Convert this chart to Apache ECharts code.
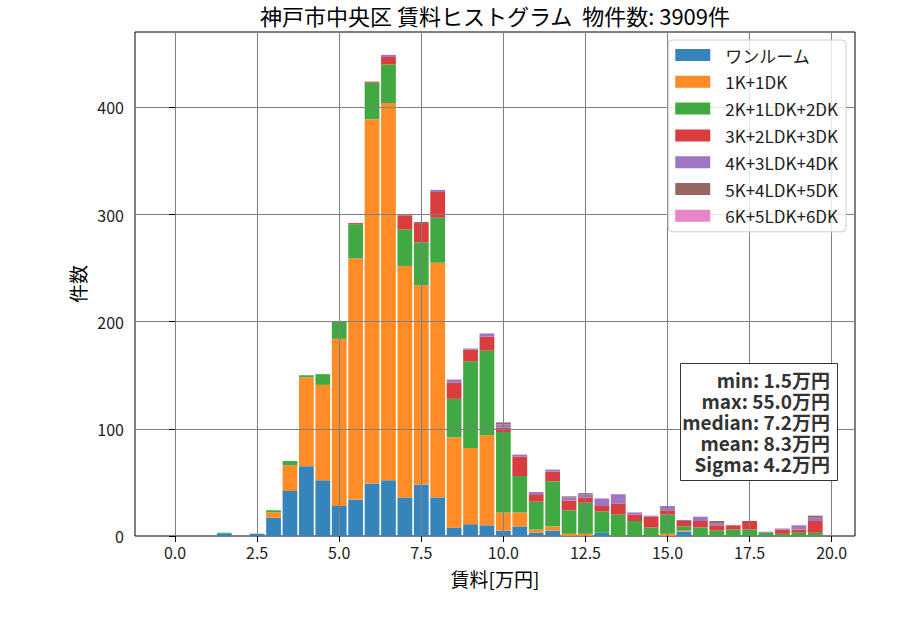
<!DOCTYPE html>
<html>
<head>
<meta charset="utf-8">
<script src="https://cdn.jsdelivr.net/npm/echarts@6/dist/echarts.min.js"></script>
<style>
	html, body { margin: 0; padding: 0; background: #fff; }
	#chart { width: 900px; height: 630px; }
</style>
</head>
<body>
<div id="chart"></div>
<script>
// 階級の中心 [万円] (幅0.5)
const binCenters = [1.5, 2.0, 2.5, 3.0, 3.5, 4.0, 4.5, 5.0, 5.5, 6.0, 6.5, 7.0, 7.5, 8.0, 8.5, 9.0, 9.5, 10.0,
	10.5, 11.0, 11.5, 12.0, 12.5, 13.0, 13.5, 14.0, 14.5, 15.0, 15.5, 16.0, 16.5, 17.0, 17.5, 18.0, 18.5, 19.0, 19.5];

// 間取りごとの件数
const oneRoom = [2, 0, 2, 17, 42, 65, 52, 28, 34, 49, 52, 36, 48, 36, 8, 11, 10, 5,
	9, 3, 5, 0, 0, 3, 0, 0, 0, 0, 4, 0, 0, 0, 0, 0, 0, 0, 0];
const oneK = [0, 0, 0, 5, 24, 83, 89, 156, 225, 340, 352, 216, 186, 219, 84, 71, 84, 17,
	13, 3, 4, 2, 2, 0, 0, 0, 0, 2, 1, 0, 0, 0, 0, 0, 0, 0, 0];
const twoK = [1, 0, 0, 2, 4, 2, 10, 16, 32, 34, 36, 34, 40, 42, 36, 81, 79, 75,
	34, 26, 42, 22, 29, 20, 20, 14, 8, 18, 4, 8, 5, 6, 6, 3, 2, 3, 3];
const threeK = [0, 0, 0, 0, 0, 0, 0, 0, 1, 1, 7, 13, 18, 24, 15, 11, 13, 4,
	18, 7, 9, 9, 5, 5, 10, 6, 10, 4, 5, 6, 5, 4, 8, 0, 4, 3, 11];
const fourK = [0, 0, 0, 0, 0, 0, 0, 0, 0, 0, 2, 0, 0, 2, 3, 1, 3, 3,
	2, 2, 2, 3, 3, 7, 9, 2, 1, 4, 1, 4, 2, 0, 0, 1, 1, 4, 3];
const fiveK = [0, 0, 0, 0, 0, 0, 0, 0, 0, 0, 0, 1, 1, 0, 0, 0, 0, 2,
	0, 0, 0, 1, 1, 0, 0, 0, 0, 0, 0, 0, 2, 0, 0, 0, 0, 0, 2];
const sixK = [0, 0, 0, 0, 0, 0, 0, 0, 0, 0, 0, 0, 0, 0, 0, 0, 0, 0,
	0, 0, 0, 0, 0, 0, 0, 0, 0, 0, 0, 0, 0, 0, 0, 0, 0, 0, 0];

const seriesNames = ['ワンルーム', '1K+1DK', '2K+1LDK+2DK', '3K+2LDK+3DK', '4K+3LDK+4DK', '5K+4LDK+5DK', '6K+5LDK+6DK'];
const xTickLabels = ['0.0', '2.5', '5.0', '7.5', '10.0', '12.5', '15.0', '17.5', '20.0'];
const yTickLabels = ['0', '100', '200', '300', '400'];
const statsLines = ['min: 1.5万円', 'max: 55.0万円', 'median: 7.2万円', 'mean: 8.3万円', 'Sigma: 4.2万円'];

(function() {
	let myChart = echarts.init(document.getElementById('chart'), null, { renderer: 'svg' });

	const font = '"Noto Sans CJK JP", "Noto Sans", sans-serif';
	// tab10 に alpha 0.9 をかけた色
	const colors = ['#3585bc', '#ff8c26', '#41a941', '#da3d3e', '#9f76c4', '#986760', '#e685c8'];
	const allData = [oneRoom, oneK, twoK, threeK, fourK, fiveK, sixK];

	// 描画領域
	const gridL = 135, gridT = 32, gridW = 720, gridH = 504;
	const xMin = -1.22, xMax = 20.71;
	const yMax = 470.3;
	const pxX = gridW / (xMax - xMin);
	const pxY = gridH / yMax;
	const xTickMax = 20, yTickMax = 400;
	const barW = 0.45; // 階級幅 0.5 × rwidth 0.9

	// 積み上げ (下端, 上端) を計算
	let base = binCenters.map(function() { return 0; });
	let series = allData.map(function(vals, i) {
		let data = binCenters.map(function(c, j) {
			let lo = base[j];
			base[j] = lo + vals[j];
			return [c, lo, base[j]];
		});
		return {
			name: seriesNames[i],
			type: 'custom',
			xAxisIndex: 0,
			yAxisIndex: 0,
			itemStyle: { color: colors[i] },
			encode: { x: 0, y: [1, 2] },
			z: 2,
			renderItem: function(params, api) {
				if (api.value(2) <= api.value(1)) return null;
				let p0 = api.coord([api.value(0) - barW / 2, api.value(2)]);
				let p1 = api.coord([api.value(0) + barW / 2, api.value(1)]);
				return {
					type: 'rect',
					shape: { x: p0[0], y: p0[1], width: p1[0] - p0[0], height: p1[1] - p0[1] },
					style: { fill: colors[i] }
				};
			},
			data: data
		};
	});

	let option = {
		animation: false,
		color: colors,
		textStyle: { fontFamily: font },
		grid: [
			// メイン
			{ left: gridL, top: gridT, width: gridW, height: gridH, show: true, borderColor: '#000', borderWidth: 1 },
			// x 目盛り用
			{ left: gridL + (0 - xMin) * pxX, top: gridT, width: xTickMax * pxX, height: gridH },
			// y 目盛り用
			{ left: gridL, top: gridT + (yMax - yTickMax) * pxY, width: gridW, height: yTickMax * pxY }
		],
		xAxis: [
			{ gridIndex: 0, type: 'value', min: xMin, max: xMax, show: false },
			{
				gridIndex: 1, type: 'value', min: 0, max: xTickMax, interval: 2.5, z: 5,
				axisLine: { show: false },
				axisTick: { show: true, length: 6, lineStyle: { color: '#000', width: 1 } },
				axisLabel: {
					color: '#222', fontSize: 16, fontFamily: font, margin: 8,
					formatter: function(v) { return xTickLabels[Math.round(v / 2.5)]; }
				},
				splitLine: { show: true, lineStyle: { color: '#808080', width: 1 } }
			},
			{ gridIndex: 2, type: 'value', min: xMin, max: xMax, show: false }
		],
		yAxis: [
			{ gridIndex: 0, type: 'value', min: 0, max: yMax, show: false },
			{ gridIndex: 1, type: 'value', min: 0, max: 1, show: false },
			{
				gridIndex: 2, type: 'value', min: 0, max: yTickMax, interval: 100, z: 5,
				axisLine: { show: false },
				axisTick: { show: true, length: 6, lineStyle: { color: '#000', width: 1 } },
				axisLabel: {
					color: '#222', fontSize: 16, fontFamily: font, margin: 11,
					formatter: function(v) { return yTickLabels[Math.round(v / 100)]; }
				},
				splitLine: { show: true, lineStyle: { color: '#808080', width: 1 } }
			}
		],
		legend: {
			orient: 'vertical',
			right: 54,
			top: 40,
			icon: 'rect',
			itemWidth: 35,
			itemHeight: 12,
			itemGap: 6.8,
			padding: [5, 8, 6, 7],
			backgroundColor: 'rgba(255,255,255,0.8)',
			borderColor: '#cccccc',
			borderWidth: 1,
			borderRadius: 4,
			z: 20,
			selectedMode: false,
			textStyle: { color: '#222', fontSize: 17, lineHeight: 20, fontFamily: font, padding: [0, 0, 0, 10] },
			data: seriesNames
		},
		graphic: [
			{
				type: 'text', x: 495, y: 15, z: 30,
				style: { text: '神戸市中央区 賃料ヒストグラム  物件数: 3909件', font: '22px ' + font, fill: '#000', textAlign: 'center', textVerticalAlign: 'middle' }
			},
			{
				type: 'text', x: 495, y: 578, z: 30,
				style: { text: '賃料[万円]', font: '19px ' + font, fill: '#000', textAlign: 'center', textVerticalAlign: 'middle' }
			},
			{
				type: 'text', x: 77, y: 284, rotation: Math.PI / 2, z: 30,
				style: { text: '件数', font: '19px ' + font, fill: '#000', textAlign: 'center', textVerticalAlign: 'middle' }
			},
			{
				type: 'rect', z: 30,
				shape: { x: 680.5, y: 363.5, width: 157, height: 117 },
				style: { fill: '#fff', stroke: '#333', lineWidth: 1 }
			}
		].concat(statsLines.map(function(s, k) {
			return {
				type: 'text', x: 830, y: 379 + k * 21, z: 31,
				style: { text: s, font: 'bold 19px ' + font, fill: '#333', textAlign: 'right', textVerticalAlign: 'middle' }
			};
		})),
		series: series
	};

	myChart.setOption(option);

	window.addEventListener('resize', function() {
		myChart.resize();
	});
})();
</script>
</body>
</html>
